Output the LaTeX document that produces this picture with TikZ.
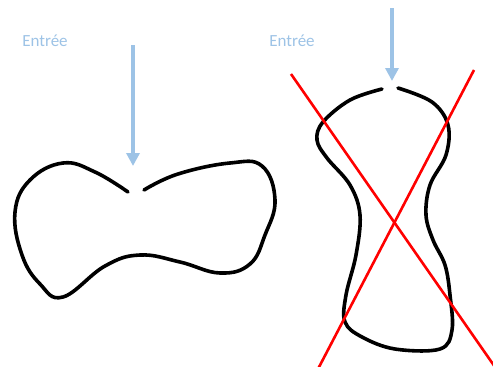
\documentclass[tikz,border=0pt]{standalone}
\usepackage{fontspec}
\setmainfont{Carlito}
\usetikzlibrary{arrows.meta}
\definecolor{lblue}{HTML}{9DC3E6}
\begin{document}
\begin{tikzpicture}[x=1pt,y=-1pt,
  outline/.style={line width=3.6pt, line cap=round, line join=round, black},
  crossline/.style={line width=2.6pt, red},
  inarrow/.style={line width=3.5pt, lblue, -{Triangle[width=13pt,length=13pt]}},
  lbl/.style={text=lblue, font=\fontsize{17}{19}\selectfont, inner sep=0pt}]
\useasboundingbox (0,0) rectangle (493,367);
% labels
\node[lbl] (e1) at (45,41) {Entrée};
\node[lbl] (e2) at (292,41) {Entrée};
% arrows
\coordinate (a1s) at (133,45); \coordinate (a1e) at (133,166);
\coordinate (a2s) at (392,8);  \coordinate (a2e) at (392,81);
\draw[inarrow] (a1s) -- (a1e);
\draw[inarrow] (a2s) -- (a2e);
% left shape
\draw[outline] plot[smooth, tension=0.7] coordinates {
 (128,192) (95,172) (63,163) (30,180) (15,212) (22,255) (40,284) (63,297)
 (105,266) (140,255) (180,262) (220,273) (250,264) (265,235)
 (275,200) (262,166) (230,163) (178,174) (144,190)};
% right shape
\draw[outline] plot[smooth, tension=0.6] coordinates {
 (382,89) (350,100) (323,122) (317,140) (327,158) (350,185) (360,215)
 (356,255) (346,295) (345,322) (362,337) (395,349) (440,349) (452,330)
 (450,295) (445,265) (433,240) (426,215) (430,185) (446,155) (448,125)
 (432,102) (398,88)};
% cross
\coordinate (c1s) at (291,74); \coordinate (c1e) at (495,367);
\coordinate (c2s) at (474,70); \coordinate (c2e) at (318,369);
\draw[crossline] (c1s) -- (c1e);
\draw[crossline] (c2s) -- (c2e);
\end{tikzpicture}
\end{document}
